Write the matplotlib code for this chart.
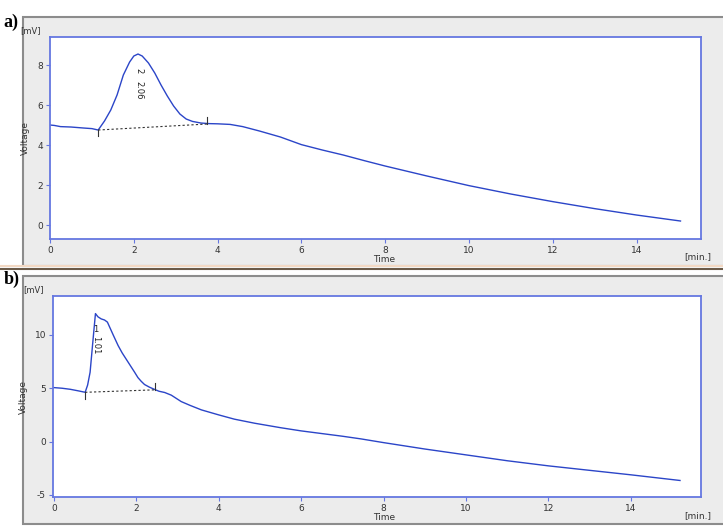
import matplotlib
matplotlib.use("Agg")
import matplotlib.pyplot as plt
from matplotlib.patches import Rectangle
from matplotlib.lines import Line2D

plt.rcParams['axes.unicode_minus'] = False

# panel a) chromatogram
a_time = [0, 0.1, 0.25, 0.5, 0.8, 1.0, 1.15, 1.3, 1.45, 1.6, 1.75, 1.9, 2.0, 2.1, 2.2,
          2.35, 2.5, 2.65, 2.8, 2.95, 3.1, 3.25, 3.4, 3.6, 3.8, 4.0, 4.3, 4.6, 5.0,
          5.5, 6.0, 6.5, 7.0, 7.5, 8.0, 9.0, 10.0, 11.0, 12.0, 13.0, 14.0, 15.05]
a_volt = [5.0, 4.98, 4.92, 4.9, 4.85, 4.82, 4.75, 5.2, 5.75, 6.5, 7.5, 8.15, 8.45, 8.55, 8.45,
          8.1, 7.6, 7.0, 6.45, 5.95, 5.55, 5.3, 5.18, 5.1, 5.07, 5.06, 5.03, 4.92, 4.7,
          4.4, 4.02, 3.75, 3.5, 3.22, 2.95, 2.45, 1.97, 1.55, 1.17, 0.82, 0.5, 0.2]
a_base_t = [1.15, 3.75]
a_base_v = [4.75, 5.05]
a_peak_no = "2"
a_peak_rt = "2.06"

# panel b) chromatogram
b_time = [0, 0.2, 0.4, 0.6, 0.76, 0.82, 0.88, 0.95, 1.01, 1.07, 1.15, 1.23, 1.3, 1.37, 1.44,
          1.56, 1.66, 1.76, 1.86, 1.96, 2.04, 2.12, 2.2, 2.32, 2.45, 2.55, 2.69, 2.85, 3.09,
          3.3, 3.58, 4.0, 4.38, 4.87, 5.5, 6.0, 7.0, 7.45, 8.0, 9.0, 10.0, 11.0, 12.0, 13.0,
          14.0, 15.19]
b_volt = [5.06, 5.0, 4.9, 4.75, 4.62, 5.3, 6.5, 9.5, 12.0, 11.7, 11.5, 11.4, 11.2, 10.6, 10.0,
          9.0, 8.3, 7.7, 7.1, 6.5, 6.0, 5.65, 5.35, 5.1, 4.88, 4.72, 4.6, 4.35, 3.75,
          3.4, 2.97, 2.5, 2.1, 1.72, 1.3, 1.0, 0.5, 0.25, -0.1, -0.7, -1.25, -1.8, -2.28, -2.7,
          -3.12, -3.65]
b_base_t = [0.76, 2.45]
b_base_v = [4.62, 4.85]
b_peak_no = "1"
b_peak_rt = "1.01"

line_col = "#2b45c8"
spine_col = "#6577e0"
panel_bg = "#ececec"

fig = plt.figure(figsize=(7.23, 5.28), dpi=100)
fig.patch.set_facecolor("white")

# grey frames round each panel
fig.patches.append(Rectangle((0.0318, 0.4962), 1.0, 0.4716, transform=fig.transFigure,
                             facecolor=panel_bg, edgecolor="#8c8c8c", lw=1.5, zorder=-2))
fig.patches.append(Rectangle((0.0318, 0.0076), 1.0, 0.4697, transform=fig.transFigure,
                             facecolor=panel_bg, edgecolor="#8c8c8c", lw=1.5, zorder=-2))
fig.lines.append(Line2D([0, 1], [0.4962, 0.4962], transform=fig.transFigure,
                        color="#f3d9c4", lw=1.5, zorder=-1))
fig.lines.append(Line2D([0, 1], [0.4905, 0.4905], transform=fig.transFigure,
                        color="#6b5a48", lw=1.5, zorder=-1))

fig.text(0.005, 0.975, "a)", fontsize=13, fontweight="bold", family="Liberation Serif",
         va="top")
fig.text(0.005, 0.487, "b)", fontsize=13, fontweight="bold", family="Liberation Serif",
         va="top")


def draw(ax, t, v, bt, bv, tick_dn, tick_up, pno, prt, pno_xy, prt_xy, pno_rot,
         xlim, ylim, yticks, time_y, min_y):
    ax.set_zorder(2)
    ax.set_facecolor("white")
    ax.plot(t, v, color=line_col, lw=1.0)
    ax.plot(bt, bv, color="#333333", lw=0.8, ls=(0, (2, 2)))
    ax.plot([bt[0], bt[0]], tick_dn, color="#333333", lw=0.8)
    ax.plot([bt[1], bt[1]], tick_up, color="#333333", lw=0.8)
    ax.text(pno_xy[0], pno_xy[1], pno, rotation=pno_rot, fontsize=6, ha="center",
            va="center", color="#222222")
    ax.text(prt_xy[0], prt_xy[1], prt, rotation=-90, fontsize=6, ha="center",
            va="center", color="#222222")
    ax.set_xlim(*xlim)
    ax.set_ylim(*ylim)
    ax.set_xticks([0, 2, 4, 6, 8, 10, 12, 14])
    ax.set_yticks(yticks)
    for s in ax.spines.values():
        s.set_color(spine_col)
        s.set_linewidth(1.3)
    ax.tick_params(colors=spine_col, labelcolor="#333333", labelsize=6.5, length=3,
                   width=0.8, pad=2)
    ax.set_ylabel("Voltage", fontsize=6.5, color="#333333", labelpad=5)
    ax.text(-0.03, 1.01, "[mV]", transform=ax.transAxes, fontsize=6, color="#333333",
            ha="center", va="bottom")
    fig.text(0.516, time_y, "Time", fontsize=6.5, color="#333333", ha="left", va="center")
    fig.text(0.965, min_y, "[min.]", fontsize=6.5, color="#333333", ha="center", va="center")


ax1 = fig.add_axes([0.0692, 0.5473, 0.9004, 0.3826])
draw(ax1, a_time, a_volt, a_base_t, a_base_v, [4.75, 4.45], [5.05, 5.4],
     a_peak_no, a_peak_rt, (2.12, 7.7), (2.12, 6.75), -90,
     (0, 15.54), (-0.7, 9.4), [0, 2, 4, 6, 8], 1 - 260 / 528, 1 - 257 / 528)

ax2 = fig.add_axes([0.0733, 0.0587, 0.8963, 0.3807])
draw(ax2, b_time, b_volt, b_base_t, b_base_v, [4.62, 4.0], [4.85, 5.5],
     b_peak_no, b_peak_rt, (1.02, 10.55), (1.02, 9.0), 0,
     (-0.02, 15.7), (-5.2, 13.65), [-5, 0, 5, 10], 1 - 518 / 528, 1 - 516 / 528)

fig.savefig("out.png", dpi=100)
